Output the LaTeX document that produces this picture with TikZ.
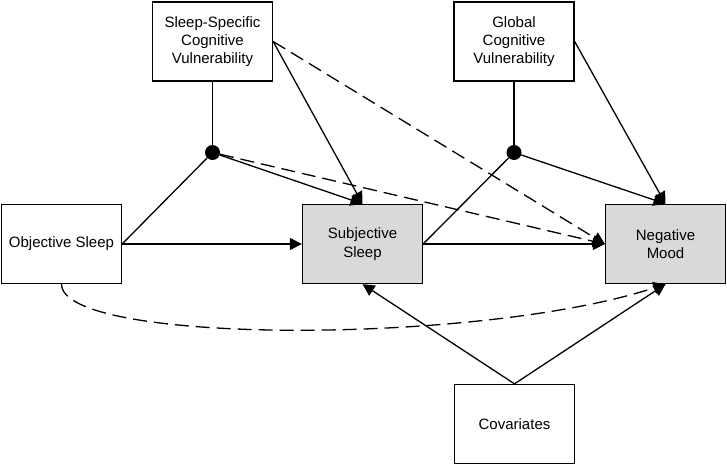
\documentclass[tikz,border=0pt]{standalone}
\usepackage{fontspec}
\setmainfont{Liberation Sans}
\usetikzlibrary{arrows.meta}
\definecolor{boxgray}{HTML}{D9D9D9}

\begin{document}
\begin{tikzpicture}[x=1pt, y=-1pt,
    var/.style={draw, line width=1.3pt, minimum width=120pt, minimum height=79pt,
      inner sep=0pt, align=center, font=\fontsize{15}{18.3}\selectfont},
    outcome/.style={var, fill=boxgray},
    moddot/.style={circle, fill=black, minimum size=15pt, inner sep=0pt},
    link/.style={line width=1.3pt},
    effect/.style={link, -{Triangle[length=12pt, width=12pt]}},
    dasheffect/.style={effect, dash pattern=on 14pt off 7pt}]
    \useasboundingbox (0,0) rectangle (727,466);
    \node[var] (ssv) at (212.5,41.5) {Sleep-Specific\\Cognitive\\Vulnerability};
    \node[var] (gcv) at (514,41.5) {Global\\Cognitive\\Vulnerability};
    \node[var] (obj) at (61.5,244) {Objective Sleep};
    \node[outcome] (subj) at (362.5,244) {Subjective\\Sleep};
    \node[outcome] (mood) at (665.5,244) {Negative\\Mood};
    \node[var] (cov) at (514.5,424) {Covariates};
    \node[moddot] (mod1) at (212.5,152.5) {};
    \node[moddot] (mod2) at (514,152.5) {};
    \draw[link] (ssv) -- (mod1);
    \draw[link] (obj.east) -- (mod1);
    \draw[effect] (mod1) -- (subj.north);
    \draw[effect] (ssv.east) -- (subj.north);
    \draw[effect] (obj) -- (subj);
    \draw[dasheffect] (ssv.east) -- (mood.west);
    \draw[dasheffect] (mod1) -- (mood.west);
    \draw[link] (gcv) -- (mod2);
    \draw[link] (subj.east) -- (mod2);
    \draw[effect] (mod2) -- (mood.north);
    \draw[effect] (gcv.east) -- (mood.north);
    \draw[effect] (subj) -- (mood);
    \draw[effect] (cov.north) -- (subj.south);
    \draw[effect] (cov.north) -- (mood.south);
    \draw[dasheffect] (obj.south) .. controls (62,345) and (480,345) .. (mood.south);
  \end{tikzpicture}
\end{document}
